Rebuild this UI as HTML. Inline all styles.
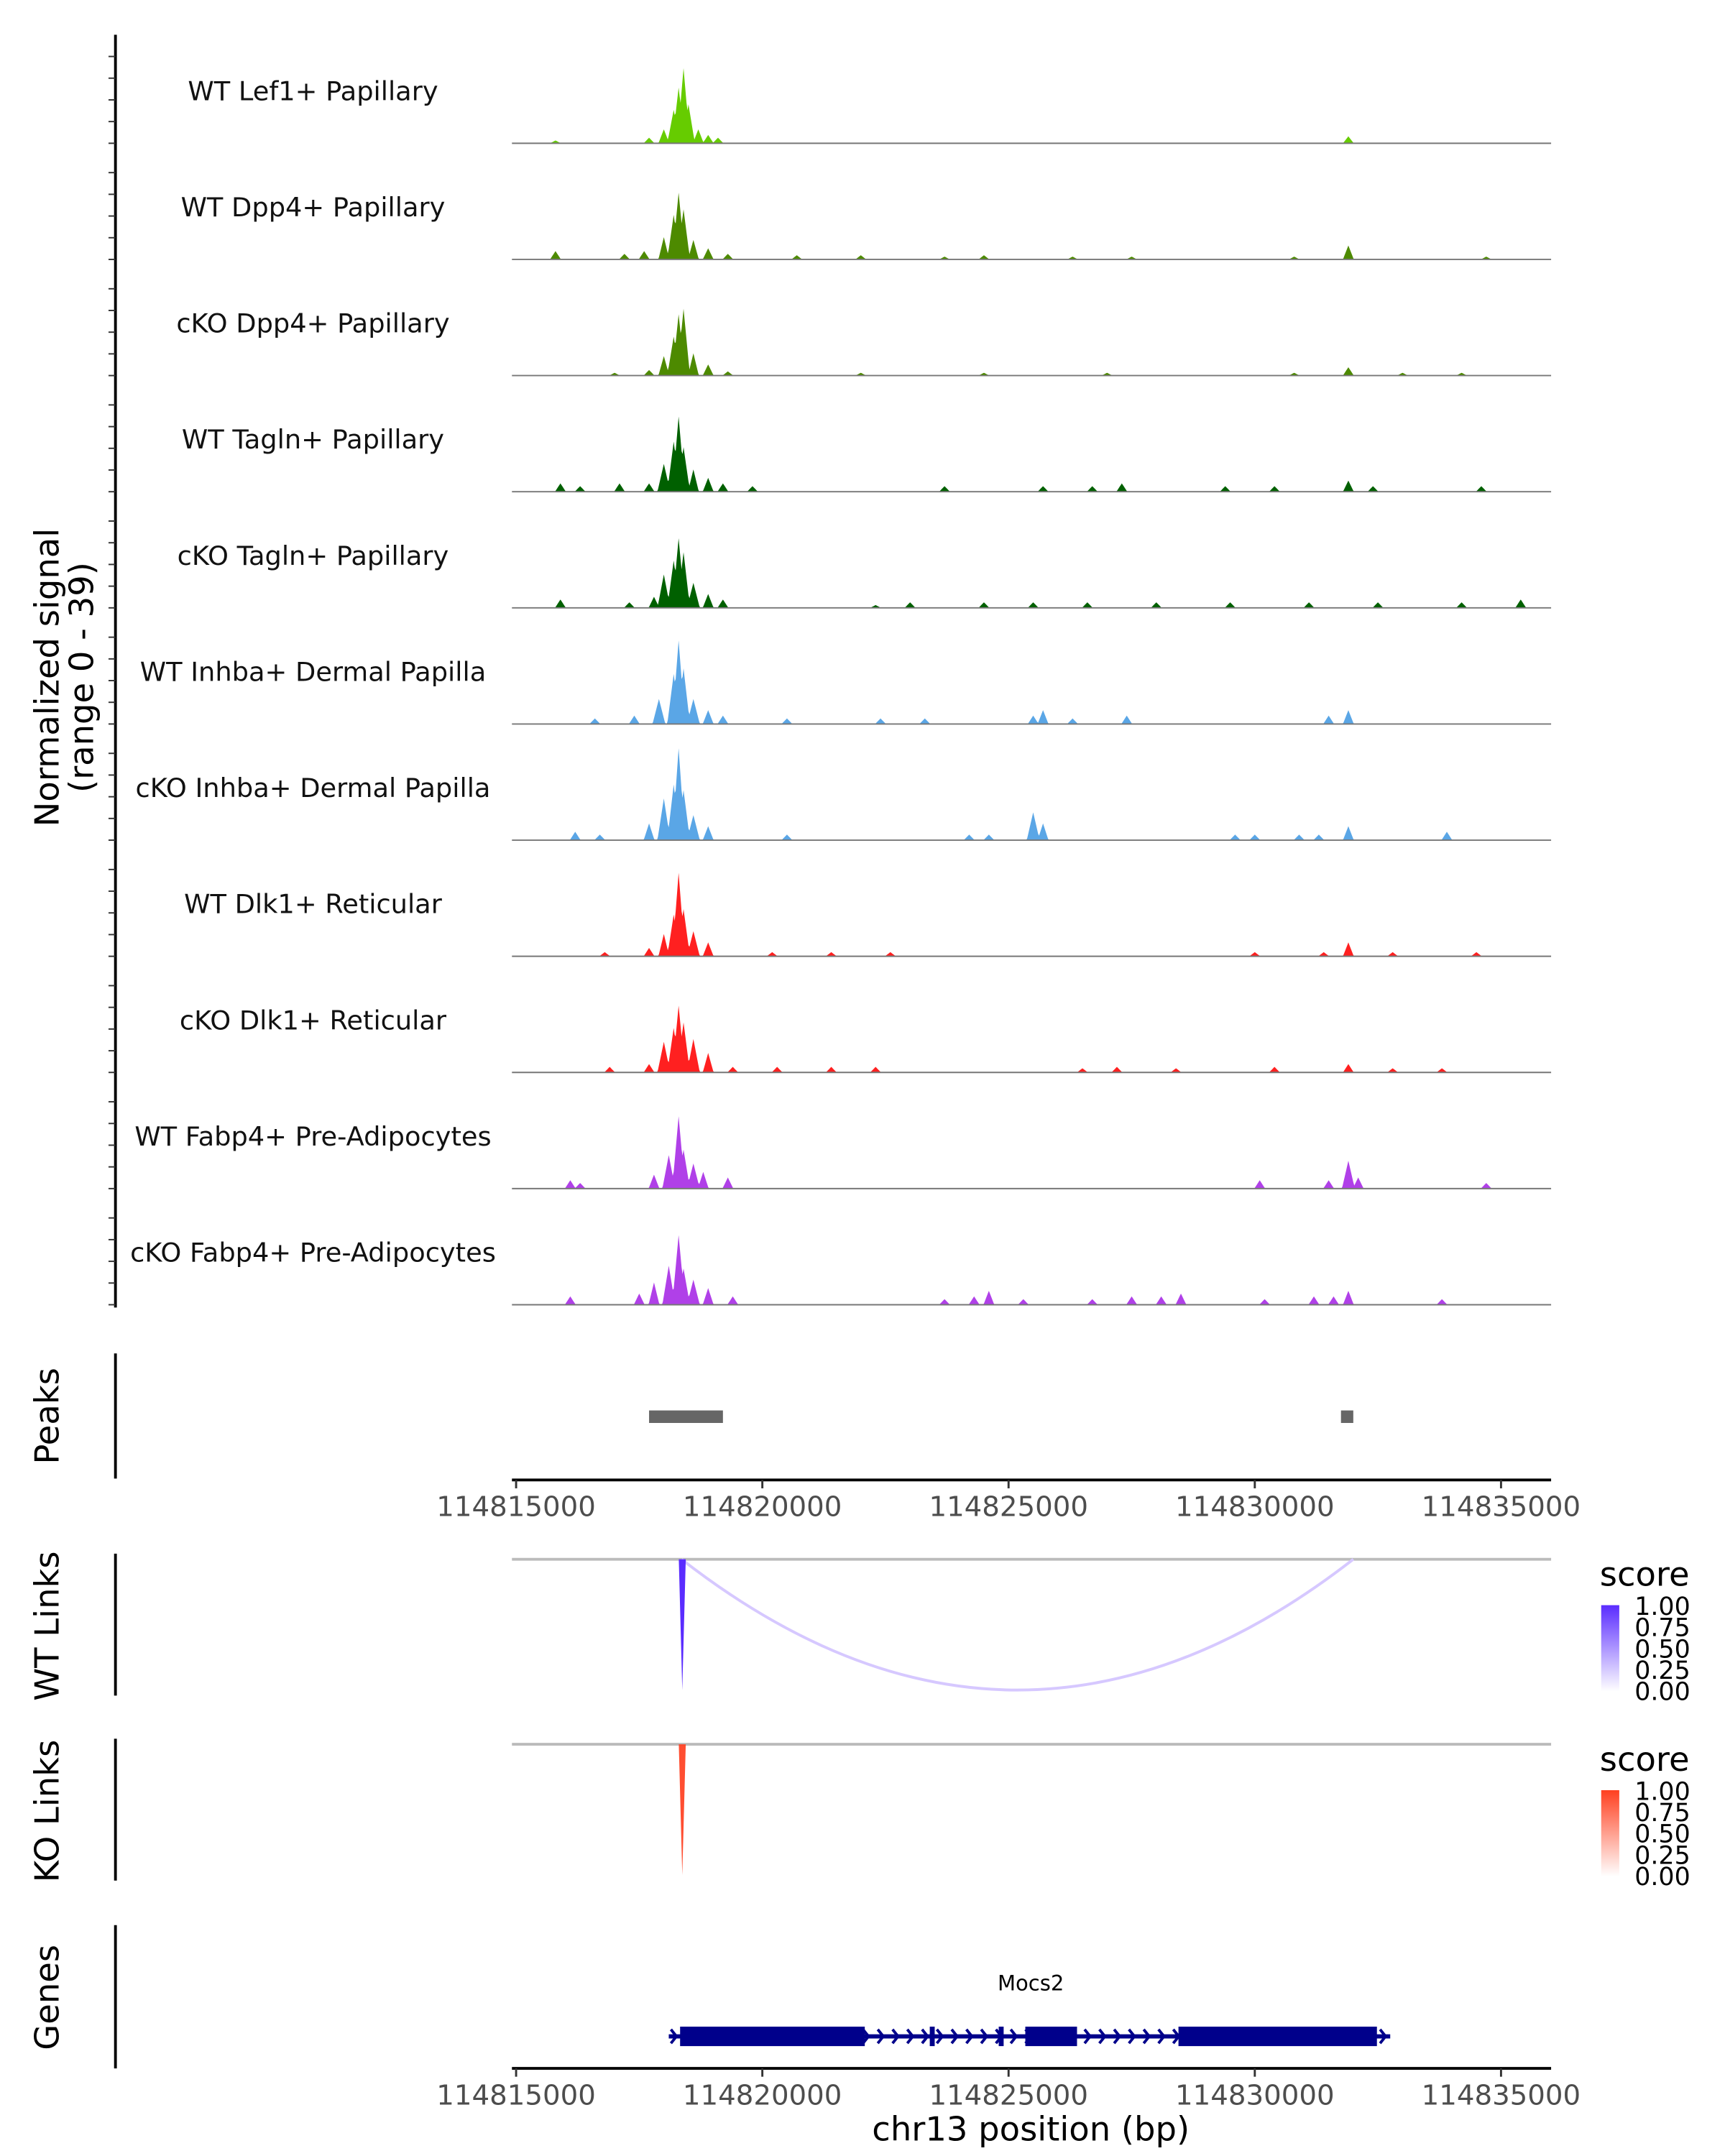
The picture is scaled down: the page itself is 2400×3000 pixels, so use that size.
<!DOCTYPE html>
<html><head><meta charset="utf-8"><style>
html,body{margin:0;padding:0;background:#fff}
svg{display:block;font-family:"DejaVu Sans","Liberation Sans",sans-serif}
</style></head><body>
<svg id="chart" xmlns="http://www.w3.org/2000/svg" width="2400" height="3000" viewBox="0 0 1240 1550">
<g id="tracks"></g>
<g id="rest"></g>
</svg>
<script>
const trackLabels=["WT Lef1+ Papillary","WT Dpp4+ Papillary","cKO Dpp4+ Papillary","WT Tagln+ Papillary","cKO Tagln+ Papillary","WT Inhba+ Dermal Papilla","cKO Inhba+ Dermal Papilla","WT Dlk1+ Reticular","cKO Dlk1+ Reticular","WT Fabp4+ Pre-Adipocytes","cKO Fabp4+ Pre-Adipocytes"];
const trackColors=["#66cc00","#4d8a00","#4d8a00","#006000","#006000","#5aa6e6","#5aa6e6","#ff2020","#ff2020","#b040e8","#b040e8"];
// peaks: [bp offset from 114815000, signal value (0-39)]
const peaks0=[[800,1],[2700,2],[3000,5],[3200,12],[3300,20],[3400,27],[3500,14],[3700,5],[3900,3],[4100,2],[16900,2.5]];
const peaks1=[[800,3],[2200,2],[2600,3],[3000,8],[3200,16],[3300,24],[3400,18],[3600,7],[3900,4],[4300,2],[5700,1.5],[7000,1.5],[8700,1],[9500,1.5],[11300,1],[12500,1],[15800,1],[16900,5],[19700,1]];
const peaks2=[[2000,1],[2700,2],[3000,7],[3200,14],[3300,22],[3400,24],[3600,8],[3900,4],[4300,1.5],[7000,1],[9500,1],[12000,1],[15800,1],[16900,3],[18000,1],[19200,1]];
const peaks3=[[900,3],[1300,2],[2100,3],[2700,3],[3000,10],[3200,18],[3300,27],[3400,16],[3600,8],[3900,5],[4200,3],[4800,2],[8700,2],[10700,2],[11700,2],[12300,3],[14400,2],[15400,2],[16900,4],[17400,2],[19600,2]];
const peaks4=[[900,3],[2300,2],[2800,4],[3000,12],[3200,17],[3300,25],[3400,20],[3600,9],[3900,5],[4200,3],[7300,1],[8000,2],[9500,2],[10500,2],[11600,2],[13000,2],[14500,2],[16100,2],[17500,2],[19200,2],[20400,3]];
const peaks5=[[1600,2],[2400,3],[2900,9],[3200,18],[3300,30],[3400,20],[3600,9],[3900,5],[4200,3],[5500,2],[7400,2],[8300,2],[10500,3],[10700,5],[11300,2],[12400,3],[16500,3],[16900,5]];
const peaks6=[[1200,3],[1700,2],[2700,6],[3000,15],[3200,20],[3300,33],[3400,18],[3600,9],[3900,5],[5500,2],[9200,2],[9600,2],[10500,10],[10700,6],[14600,2],[15000,2],[15900,2],[16300,2],[16900,5],[18900,3]];
const peaks7=[[1800,1.5],[2700,3],[3000,8],[3200,15],[3300,30],[3400,17],[3600,9],[3900,5],[5200,1.5],[6400,1.5],[7600,1.5],[15000,1.5],[16400,1.5],[16900,5],[17800,1.5],[19500,1.5]];
const peaks8=[[1900,2],[2700,3],[3000,11],[3200,16],[3300,24],[3400,18],[3600,12],[3900,7],[4400,2],[5300,2],[6400,2],[7300,2],[11500,1.5],[12200,2],[13400,1.5],[15400,2],[16900,3],[17800,1.5],[18800,1.5]];
const peaks9=[[1100,3],[1300,2],[2800,5],[3100,12],[3300,26],[3400,14],[3600,9],[3800,6],[4300,4],[15100,3],[16500,3],[16900,10],[17100,4],[19700,2]];
const peaks10=[[1100,3],[2500,4],[2800,8],[3100,14],[3300,25],[3400,13],[3600,9],[3900,6],[4400,3],[8700,2],[9300,3],[9600,5],[10300,2],[11700,2],[12500,3],[13100,3],[13500,4],[15200,2],[16200,3],[16600,3],[16900,5],[18800,2]];
const allPeaks=[peaks0,peaks1,peaks2,peaks3,peaks4,peaks5,peaks6,peaks7,peaks8,peaks9,peaks10];
const xTicks=[114815000,114820000,114825000,114830000,114835000];
// offsets from 114815000
const peakRegions=[[2700,4200],[16750,17000]];
const exons=[[3330,7080],[8400,8500],[9800,9900],[10340,11390],[13450,17480]];
const geneStart=3100, geneEnd=17750;
const linkWT=[[3360,17000,0.3],[3360,3400,1.0]];
const linkKO=[[3360,3400,0.9]];
const legendTicks=["1.00","0.75","0.50","0.25","0.00"];

const NS="http://www.w3.org/2000/svg";
const X0=114815000;
function xs(bp){return 371+(bp-X0)*0.0354;}
function xo(off){return xs(X0+off);}
const base0=103, trackStep=83.5, ymax=39, trackH=78;
function ys(v,i){return base0+i*trackStep - v/ymax*trackH;}
function mk(tag,attrs,parent,text){const e=document.createElementNS(NS,tag);for(const k in attrs)e.setAttribute(k,attrs[k]);if(text!==undefined)e.textContent=text;parent.appendChild(e);return e;}
const T=document.getElementById('tracks'), R=document.getElementById('rest');

let ax=mk('line',{x1:83,y1:25,x2:83,y2:940,stroke:'#000','stroke-width':2},T);


for(let i=0;i<11;i++){for(let k=0;k<10;k+=2){const y=base0+i*trackStep-k*trackH/10;
 const t=mk('line',{x1:78,y1:y,x2:83,y2:y,stroke:'#333','stroke-width':1},T);
 
 }}
let yt=mk('text',{x:0,y:0,'font-size':24,'text-anchor':'middle',transform:'translate(42,487) rotate(-90)',fill:'#000'},T);


mk('tspan',{x:0,dy:0},yt,'Normalized signal');
mk('tspan',{x:0,dy:25},yt,'(range 0 - 39)');

for(let i=0;i<11;i++){
 const b=base0+i*trackStep;
 const lab=mk('text',{x:225,y:b-31,'font-size':19,'text-anchor':'middle',fill:'#111'},T,trackLabels[i]);
 
 
 const pk=allPeaks[i];
 let d='M'+xo(-100)+','+b;
 const step=20;
 for(let off=-100;off<=20800;off+=step){
   let v=0;
   for(const p of pk){const w=p[1]>8?130:110;const dd=Math.abs(off-p[0]);if(dd<w){v=Math.max(v,p[1]*(1-dd/w));}}
   d+=' L'+xo(off).toFixed(2)+','+ys(v,i).toFixed(2);
 }
 d+=' L'+xo(20800)+','+b+'Z';
 const area=mk('path',{d:d,fill:trackColors[i],stroke:'none'},T);
 
 
 const bl=mk('line',{x1:368,y1:b,x2:1115,y2:b,stroke:'#777','stroke-width':1},T);
 
 
}

let pa=mk('line',{x1:83,y1:973,x2:83,y2:1063,stroke:'#000','stroke-width':2},R);


let pt=mk('text',{x:0,y:0,'font-size':24,'text-anchor':'middle',transform:'translate(42,1018) rotate(-90)'},R,'Peaks');


for(const r of peakRegions){const e=mk('rect',{x:xo(r[0]),y:1014,width:xo(r[1])-xo(r[0]),height:9,fill:'#666'},R);
 
 }

function xAxis(y,title){
 const l=mk('line',{x1:368,y1:y,x2:1115,y2:y,stroke:'#000','stroke-width':2},R);
 
 
 for(const t of xTicks){const x=xs(t);
  const tk=mk('line',{x1:x,y1:y,x2:x,y2:y+6,stroke:'#333','stroke-width':1.5},R);
  
  
  const tl=mk('text',{x:x,y:y+26,'font-size':20,'text-anchor':'middle',fill:'#4d4d4d'},R,String(t));
  
  }
 if(title){const tt=mk('text',{x:741,y:y+52,'font-size':24,'text-anchor':'middle'},R,title);
  
  }
}
xAxis(1064,null);

function linkPanel(top,label,color,links,gradId,c1){
 const a=mk('line',{x1:83,y1:top-4,x2:83,y2:top+98,stroke:'#000','stroke-width':2},R);
 
 
 const t=mk('text',{x:0,y:0,'font-size':24,'text-anchor':'middle',transform:'translate(42,'+(top+48)+') rotate(-90)'},R,label);
 
 
 const g=mk('line',{x1:368,y1:top,x2:1115,y2:top,stroke:'#bbb','stroke-width':2},R);
 
 
 for(const lk of links){const x1=xo(lk[0]),x2=xo(lk[1]);const depth=94;
  const op=0.25+0.75*lk[2];
  if(x2-x1<5){const path='M'+(x1-2)+','+top+' L'+(x1+0.5)+','+(top+depth)+' L'+(x1+3)+','+top+'Z';
   const e=mk('path',{d:path,fill:color,'fill-opacity':op},R);
   
   }
  else{const xm=(x1+x2)/2;const path='M'+x1+','+top+' Q'+xm+','+(top+2*depth)+' '+x2+','+top;
   const e=mk('path',{d:path,fill:'none',stroke:c1,'stroke-width':2},R);
   
   }
 }
 const lt=mk('text',{x:1150,y:top+19,'font-size':24},R,'score');
 
 
 const defs=mk('defs',{},R);
 const lg=mk('linearGradient',{id:gradId,x1:0,y1:0,x2:0,y2:1},defs);
 mk('stop',{offset:'0','stop-color':color},lg);mk('stop',{offset:'1','stop-color':'#fff'},lg);
 const bar=mk('rect',{x:1151,y:top+33,width:13,height:62,fill:'url(#'+gradId+')'},R);
 
 
 legendTicks.forEach((s,k)=>{const e=mk('text',{x:1175,y:top+40+k*15.3,'font-size':18},R,s);
  
  });
}
linkPanel(1121,'WT Links','#5a2cff',linkWT,'gwt','#d6c8ff');
linkPanel(1254,'KO Links','#ff4020',linkKO,'gko','#ffc0b0');

let ga=mk('line',{x1:83,y1:1384,x2:83,y2:1487,stroke:'#000','stroke-width':2},R);


let gt=mk('text',{x:0,y:0,'font-size':24,'text-anchor':'middle',transform:'translate(42,1436) rotate(-90)'},R,'Genes');


let gn=mk('text',{x:741,y:1431,'font-size':15,'text-anchor':'middle'},R,'Mocs2');


const gy=1464;
let gl=mk('line',{x1:xo(geneStart),y1:gy,x2:xo(geneEnd),y2:gy,stroke:'#00008b','stroke-width':3},R);


for(let bp=geneStart+100;bp<geneEnd;bp+=300){const x=xo(bp);
 const e=mk('path',{d:'M'+(x-2)+','+(gy-5)+' L'+(x+2)+','+gy+' L'+(x-2)+','+(gy+5),fill:'none',stroke:'#00008b','stroke-width':2},R);
 
 }
for(const ex of exons){const x1=xo(ex[0]),x2=xo(ex[1]);
 const e=mk('rect',{x:x1,y:gy-7,width:Math.max(2.5,x2-x1),height:14,fill:'#00008b'},R);
 
 }
xAxis(1487,'chr13 position (bp)');
</script>
</body></html>
